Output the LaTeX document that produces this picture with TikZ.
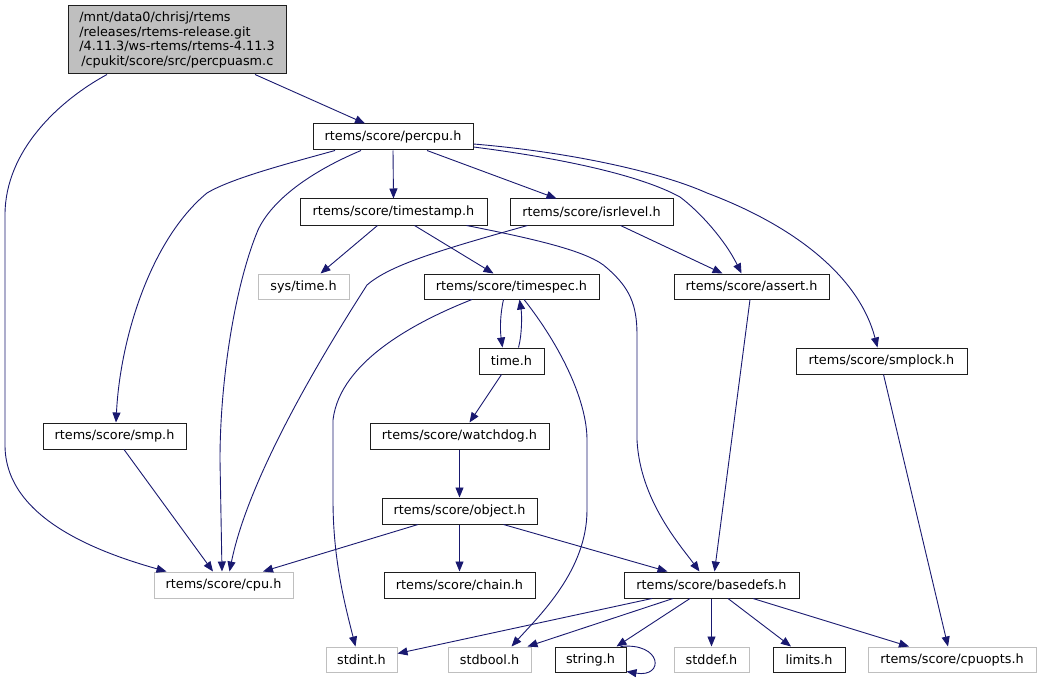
\documentclass[tikz,border=0pt]{standalone}
\usepackage{fontspec}
\setmainfont{DejaVu Sans}
\usetikzlibrary{arrows.meta,calc}
\definecolor{edgec}{RGB}{25,25,112}
\definecolor{grayb}{RGB}{191,191,191}
\definecolor{boxb}{RGB}{30,30,30}
\begin{document}
\begin{tikzpicture}[x=1pt,y=-1pt,
  box/.style={draw=boxb, line width=1pt, inner sep=0pt, minimum height=26pt,
              font=\fontsize{12.8}{14.6}\selectfont, fill=white},
  sysbox/.style={box, draw=grayb},
  rootbox/.style={box, fill=grayb, align=left},
  edge/.style={draw=edgec, line width=0.9pt, -{Triangle[length=10pt,width=8pt]}}]
\useasboundingbox[fill=white] (0,0) rectangle (1041,679);

% nodes
\node[rootbox, minimum width=218pt, minimum height=68pt] (root) at (177,40)
  {/mnt/data0/chrisj/rtems\\/releases/rtems-release.git\\/4.11.3/ws-rtems/rtems-4.11.3\\\hspace*{2pt}/cpukit/score/src/percpuasm.c};
\node[box, minimum width=160pt] (percpu) at (393,137) {rtems/score/percpu.h};
\node[box, minimum width=187pt] (timestamp) at (393.5,212) {rtems/score/timestamp.h};
\node[box, minimum width=163pt] (isrlevel) at (591.5,212) {rtems/score/isrlevel.h};
\node[sysbox, minimum width=91pt, minimum height=25pt] (systime) at (303.5,286.5) {sys/time.h};
\node[box, minimum width=175pt, minimum height=25pt] (timespec) at (511.5,286.5) {rtems/score/timespec.h};
\node[box, minimum width=155pt, minimum height=25pt] (assert) at (751.5,286.5) {rtems/score/assert.h};
\node[box, minimum width=65pt] (timeh) at (511.5,361) {time.h};
\node[box, minimum width=171pt] (smplock) at (881.5,361) {rtems/score/smplock.h};
\node[box, minimum width=143pt] (smp) at (114.5,436) {rtems/score/smp.h};
\node[box, minimum width=179pt] (watchdog) at (459.5,436) {rtems/score/watchdog.h};
\node[box, minimum width=155pt] (object) at (459.5,511) {rtems/score/object.h};
\node[sysbox, minimum width=139pt] (cpu) at (223.5,585) {rtems/score/cpu.h};
\node[box, minimum width=151pt] (chain) at (459.5,585) {rtems/score/chain.h};
\node[box, minimum width=175pt] (basedefs) at (711.5,585) {rtems/score/basedefs.h};
\node[sysbox, minimum width=71pt, minimum height=25pt] (stdint) at (361.5,659.5) {stdint.h};
\node[sysbox, minimum width=83pt, minimum height=25pt] (stdbool) at (489.5,659.5) {stdbool.h};
\node[box, minimum width=71pt, minimum height=25pt] (string) at (590.5,659.5) {string.h};
\node[sysbox, minimum width=75pt, minimum height=25pt] (stddef) at (711.5,659.5) {stddef.h};
\node[box, minimum width=72pt, minimum height=25pt] (limits) at (809,659.5) {limits.h};
\node[sysbox, minimum width=168pt, minimum height=25pt] (cpuopts) at (952,659.5) {rtems/score/cpuopts.h};

% edges
\draw[edge] ($(root.south)+(-70,0)$) .. controls (60,100) and (5,150) .. (5,215)
  -- (5,445) .. controls (5,515) and (90,550) .. ($(cpu.north)+(-57,0)$);
\draw[edge] ($(root.south)+(78,0)$) -- ($(percpu.north)+(-28,0)$);

\draw[edge] ($(percpu.south)+(-58,0)$) .. controls (290,163) and (232,178) .. (207,193)
  .. controls (150,240) and (120,340) .. ($(smp.north)+(1.5,0)$);
\draw[edge] ($(percpu.south)+(-32,0)$) .. controls (310,172) and (272,200) .. (258,230)
  .. controls (235,285) and (220,380) .. (220,460) -- ($(cpu.north)+(-1.5,0)$);
\draw[edge] (percpu.south) -- (timestamp.north);
\draw[edge] ($(percpu.south)+(34,0)$) -- ($(isrlevel.north)+(-35,0)$);
\draw[edge] ($(percpu.east)+(0,10)$) .. controls (560,158) and (640,175) .. (680,197)
  .. controls (700,212) and (725,240) .. ($(assert.north)+(-10,0)$);
\draw[edge] ($(percpu.east)+(0,7)$) .. controls (570,152) and (660,172) .. (707,193)
  .. controls (800,228) and (860,280) .. ($(smplock.north)+(-4,0)$);

\draw[edge] ($(timestamp.south)+(-16,0)$) -- ($(systime.north)+(17,0)$);
\draw[edge] ($(timestamp.south)+(21,0)$) -- ($(timespec.north)+(-18,0)$);
\draw[edge] ($(timestamp.south)+(73,0)$) .. controls (540,240) and (590,252) .. (607,268)
  .. controls (630,288) and (637,305) .. (637,335) -- (637,440)
  .. controls (640,500) and (680,545) .. ($(basedefs.north)+(-12,0)$);

\draw[edge] ($(isrlevel.south)+(-64,0)$) .. controls (440,250) and (390,265) .. (367,285)
  .. controls (335,335) and (250,470) .. ($(cpu.north)+(6,0)$);
\draw[edge] ($(isrlevel.south)+(29,0)$) -- ($(assert.north)+(-29,0)$);

\draw[edge] ($(timespec.south)+(-8,0)$) .. controls (500,315) and (500,330) .. ($(timeh.north)+(-9,0)$);
\draw[edge] ($(timeh.north)+(7,0)$) .. controls (522,335) and (522,315) .. ($(timespec.south)+(8,0)$);
\draw[edge] ($(timespec.south)+(-39.5,0)$) .. controls (420,320) and (340,360) .. (333,420)
  -- (333,500) .. controls (333,560) and (345,605) .. ($(stdint.north)+(-6,0)$);
\draw[edge] ($(timespec.south)+(12.5,0)$) .. controls (560,345) and (587,400) .. (587,440)
  -- (587,510) .. controls (587,570) and (540,615) .. ($(stdbool.north)+(22,0)$);

\draw[edge] ($(assert.south)+(-1.5,0)$) -- ($(basedefs.north)+(3,0)$);
\draw[edge] ($(timeh.south)+(-10,0)$) -- ($(watchdog.north)+(10,0)$);
\draw[edge] ($(smplock.south)+(2,0)$) -- ($(cpuopts.north)+(-4,0)$);
\draw[edge] ($(smp.south)+(9.5,0)$) -- ($(cpu.north)+(-10.5,0)$);
\draw[edge] (watchdog.south) -- (object.north);
\draw[edge] ($(object.south)+(-41.5,0)$) -- ($(cpu.north)+(39.5,0)$);
\draw[edge] (object.south) -- (chain.north);
\draw[edge] ($(object.south)+(44,0)$) -- ($(basedefs.north)+(-44,0)$);

\draw[edge] ($(basedefs.south)+(-59.5,0)$) -- ($(stdint.east)+(0,-6)$);
\draw[edge] ($(basedefs.south)+(-38.5,0)$) -- ($(stdbool.north)+(38,0)$);
\draw[edge] ($(basedefs.south)+(-21.5,0)$) -- ($(string.north)+(26,0)$);
\draw[edge] (basedefs.south) -- (stddef.north);
\draw[edge] ($(basedefs.south)+(16.5,0)$) -- ($(limits.north)+(-18,0)$);
\draw[edge] ($(basedefs.south)+(41.5,0)$) -- ($(cpuopts.north)+(-43,0)$);

\draw[edge] ($(string.north east)+(-6,0)$) .. controls (662,642) and (665,678) .. ($(string.south east)+(0,-1)$);
\end{tikzpicture}
\end{document}
